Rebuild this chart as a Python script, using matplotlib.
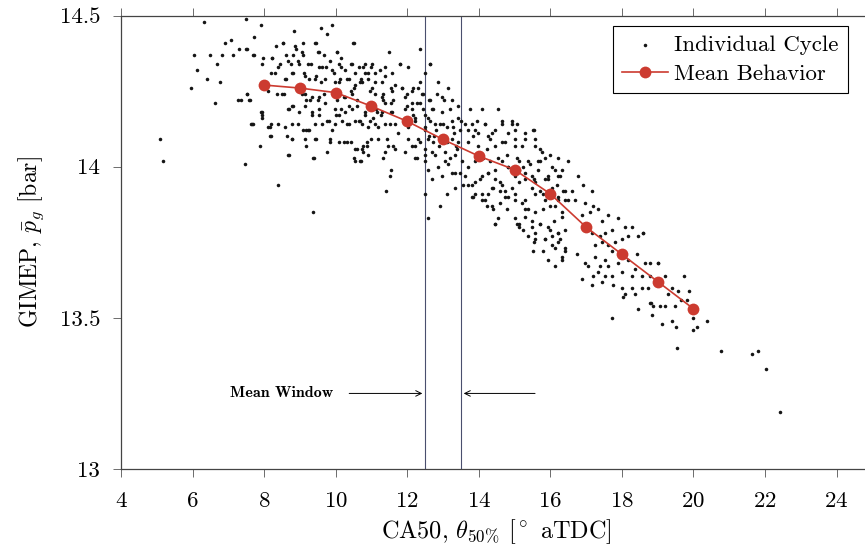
import matplotlib.pyplot as plt

plt.rcParams['font.family'] = 'cmr10'
plt.rcParams['mathtext.fontset'] = 'cm'
plt.rcParams['axes.formatter.use_mathtext'] = True

# --- individual cycles (CA50 [deg aTDC], GIMEP [bar]) ---
cycles_early = [
    (5.10, 14.09), (5.17, 14.02), (5.97, 14.26), (6.05, 14.37), (6.11, 14.32), (6.32, 14.48),
    (6.40, 14.29), (6.50, 14.37), (6.64, 14.21), (6.68, 14.34), (6.76, 14.28), (6.83, 14.37),
    (6.92, 14.41), (7.07, 14.42), (7.13, 14.37), (7.31, 14.39), (7.34, 14.22), (7.46, 14.01),
    (7.49, 14.39), (7.49, 14.49), (7.51, 14.24), (7.58, 14.22), (7.63, 14.14), (7.69, 14.14),
    (7.72, 14.43), (7.72, 14.37), (7.90, 14.47), (7.90, 14.18), (7.93, 14.17), (7.97, 14.36),
    (8.16, 14.13), (8.18, 14.31), (8.18, 14.14), (8.18, 14.10), (8.22, 14.36), (8.33, 14.40),
    (8.36, 14.24), (8.39, 13.94), (8.43, 14.34), (8.53, 14.41), (8.55, 14.24), (8.60, 14.37),
    (8.60, 14.29), (8.64, 14.10), (8.69, 14.19), (8.69, 14.04), (8.74, 14.34), (8.77, 14.09),
    (8.78, 14.20), (8.80, 14.37), (8.80, 14.31), (8.83, 14.45), (8.88, 14.39), (8.94, 14.14),
    (8.97, 14.34), (8.97, 14.18), (9.06, 14.24), (9.08, 14.41), (9.08, 14.37), (9.11, 14.31),
    (9.16, 14.22), (9.16, 14.12), (9.16, 14.07), (9.25, 14.29), (9.25, 14.12), (9.30, 14.34),
    (9.34, 14.23), (9.34, 14.18), (9.36, 13.85), (9.39, 14.03), (9.44, 14.41), (9.44, 14.30),
    (9.44, 14.09), (9.50, 14.38), (9.50, 14.22), (9.53, 14.33), (9.53, 14.17), (9.59, 14.46),
    (9.60, 14.28), (9.67, 14.37), (9.67, 14.24), (9.72, 14.33), (9.76, 14.44), (9.76, 14.15),
    (9.83, 14.08), (9.90, 14.47), (9.90, 14.32), (9.90, 14.12), (10.00, 14.17), (10.03, 14.38),
    (10.03, 14.22), (10.09, 14.28), (10.14, 14.33), (10.14, 14.19), (10.16, 14.36), (10.23, 14.23),
    (10.23, 14.08), (10.31, 14.29), (10.31, 14.14), (10.37, 14.20), (10.42, 14.34), (10.42, 14.25),
    (10.42, 14.08), (10.48, 14.41), (10.55, 14.27), (10.55, 14.06), (10.55, 14.02), (10.59, 14.20),
    (10.65, 14.33), (10.65, 14.15), (10.69, 14.02), (10.73, 14.28), (10.73, 14.06), (10.83, 14.31),
    (10.83, 14.17), (10.87, 14.07),
]

cycles_upper = [
    (8.54, 14.41), (8.86, 14.40), (9.42, 14.41), (10.50, 14.41), (7.70, 14.37), (7.93, 14.34),
    (8.21, 14.36), (8.40, 14.33), (8.68, 14.35), (8.96, 14.35), (9.05, 14.38), (9.24, 14.34),
    (9.52, 14.38), (9.61, 14.33), (9.84, 14.35), (10.03, 14.38), (10.08, 14.34), (10.26, 14.32),
    (10.45, 14.34), (10.54, 14.31), (10.82, 14.34), (11.01, 14.34), (11.10, 14.31), (11.38, 14.33),
    (11.57, 14.31), (11.80, 14.34), (12.36, 14.39), (12.64, 14.34), (8.31, 14.31), (8.58, 14.29),
    (8.77, 14.31), (9.14, 14.30), (9.42, 14.29), (9.70, 14.29), (9.94, 14.31), (9.98, 14.28),
    (10.12, 14.29), (10.36, 14.29), (10.50, 14.26), (10.68, 14.28), (10.91, 14.29), (11.01, 14.26),
    (11.29, 14.28), (11.57, 14.25), (11.85, 14.26), (12.13, 14.25), (12.31, 14.26), (12.45, 14.24),
    (7.51, 14.24), (7.61, 14.22), (8.12, 14.25), (8.49, 14.24), (9.14, 14.24), (9.28, 14.22),
    (9.52, 14.23), (10.08, 14.24), (10.26, 14.23), (10.45, 14.24), (10.59, 14.22), (11.10, 14.24),
    (11.29, 14.23), (11.38, 14.21), (11.61, 14.22), (11.94, 14.23), (12.13, 14.21), (12.36, 14.21),
    (12.64, 14.22), (7.93, 14.18), (8.68, 14.19), (8.82, 14.20), (9.14, 14.20), (9.33, 14.17),
    (9.52, 14.19), (9.70, 14.21), (9.98, 14.19), (10.08, 14.17), (10.26, 14.18), (10.45, 14.19),
    (11.01, 14.19), (11.15, 14.18), (11.29, 14.18), (11.57, 14.18), (11.94, 14.19), (12.17, 14.17),
    (12.50, 14.17), (12.69, 14.19), (7.65, 14.14), (7.93, 14.16), (8.12, 14.13), (8.17, 14.10),
    (8.40, 14.14), (8.58, 14.13), (8.77, 14.14), (9.10, 14.12), (9.24, 14.12), (9.42, 14.14),
    (9.61, 14.14), (9.80, 14.15), (9.98, 14.14), (10.17, 14.15), (10.36, 14.14), (10.54, 14.15),
    (10.73, 14.14), (10.96, 14.15), (11.10, 14.14), (11.38, 14.14), (11.66, 14.14), (12.22, 14.15),
    (12.50, 14.13), (12.78, 14.14), (8.77, 14.09), (9.14, 14.09), (9.42, 14.09), (9.84, 14.09),
    (10.08, 14.08), (10.31, 14.08), (10.59, 14.06), (10.87, 14.08), (11.19, 14.09), (11.43, 14.09),
    (11.61, 14.07), (12.03, 14.09), (12.22, 14.07), (12.36, 14.08), (12.50, 14.04), (12.59, 14.09),
    (7.89, 14.07), (8.68, 14.04), (9.38, 14.03), (9.75, 14.05), (10.50, 14.03), (10.77, 14.05),
    (11.38, 14.05), (12.27, 14.03), (7.28, 14.22), (7.51, 14.39),
]

cycles_core = [
    (10.77, 14.33), (11.00, 14.33), (10.91, 14.31), (11.24, 14.32), (11.38, 14.30), (11.80, 14.34),
    (11.56, 14.26), (11.10, 14.28), (10.96, 14.25), (11.33, 14.24), (11.66, 14.27), (11.84, 14.26),
    (11.98, 14.24), (12.17, 14.26), (12.40, 14.24), (12.64, 14.34), (12.85, 14.28), (12.82, 14.24),
    (13.04, 14.22), (12.61, 14.22), (12.73, 14.19), (12.45, 14.19), (12.26, 14.21), (12.12, 14.19),
    (11.98, 14.20), (11.56, 14.21), (11.33, 14.22), (11.14, 14.19), (10.82, 14.18), (11.05, 14.16),
    (11.28, 14.17), (11.56, 14.18), (10.68, 14.15), (10.91, 14.13), (11.19, 14.13), (11.52, 14.14),
    (11.75, 14.11), (12.03, 14.13), (12.22, 14.16), (12.59, 14.16), (12.96, 14.18), (13.20, 14.19),
    (13.43, 14.20), (13.75, 14.19), (14.08, 14.19), (14.55, 14.19), (12.92, 14.14), (13.10, 14.13),
    (13.29, 14.13), (13.48, 14.12), (13.61, 14.14), (13.94, 14.15), (14.17, 14.14), (14.36, 14.11),
    (14.64, 14.14), (14.92, 14.15), (15.01, 14.12), (15.29, 14.11), (15.53, 14.12), (12.50, 14.12),
    (12.31, 14.09), (12.12, 14.07), (11.94, 14.05), (11.66, 14.06), (11.47, 14.07), (11.00, 14.09),
    (10.77, 14.07), (10.91, 14.04), (10.72, 14.02), (11.33, 14.03), (12.50, 14.06), (12.73, 14.08),
    (13.01, 14.09), (13.24, 14.09), (13.43, 14.08), (13.71, 14.08), (13.85, 14.10), (13.99, 14.07),
    (14.22, 14.06), (14.45, 14.07), (14.73, 14.08), (15.01, 14.07), (15.29, 14.09), (15.57, 14.07),
    (15.76, 14.05), (15.99, 14.04), (16.22, 14.03), (12.22, 14.03), (12.50, 14.02), (12.78, 14.04),
    (13.06, 14.05), (13.33, 14.04), (13.52, 14.02), (13.71, 14.00), (13.89, 14.02), (14.13, 14.03),
    (14.31, 14.02), (14.55, 14.03), (14.78, 14.04), (15.11, 14.02), (15.43, 14.01), (15.71, 14.02),
    (16.04, 14.00), (16.32, 13.99), (12.59, 13.99), (12.87, 14.00), (13.15, 14.01), (12.68, 13.96),
    (12.96, 13.97), (13.24, 13.98), (13.47, 13.98), (13.61, 13.97), (13.80, 13.94), (14.03, 13.96),
    (14.27, 13.98), (14.45, 13.96), (14.64, 13.94), (15.01, 13.97), (15.29, 13.98), (15.53, 13.96),
    (15.85, 13.96), (16.18, 13.94), (16.36, 13.92), (11.56, 13.99), (11.52, 13.97), (11.42, 13.92),
    (12.50, 13.91), (13.10, 13.91), (12.92, 13.87), (12.59, 13.83), (13.57, 13.94), (13.71, 13.94),
    (13.85, 13.90), (14.08, 13.91), (14.36, 13.93), (14.59, 13.92), (14.73, 13.90), (15.01, 13.91),
    (15.29, 13.89), (15.57, 13.91), (15.85, 13.89), (16.13, 13.87), (16.32, 13.85), (14.45, 13.81),
    (14.55, 13.83), (15.01, 13.83), (15.29, 13.86), (15.48, 13.82), (15.71, 13.81), (15.99, 13.79),
    (16.22, 13.78), (15.53, 13.75), (15.85, 13.76), (16.13, 13.73), (16.41, 13.73), (16.32, 13.70),
    (15.06, 13.81), (14.78, 13.86), (14.36, 13.87), (14.17, 13.89), (13.89, 13.91), (13.33, 13.93),
    (13.33, 13.98), (12.03, 14.33), (10.72, 14.29), (12.36, 14.28), (12.50, 14.31), (13.15, 14.26),
    (12.96, 14.23), (13.24, 14.22), (13.43, 14.16), (13.71, 14.12), (13.89, 14.12), (14.31, 14.09),
    (14.83, 14.00), (15.11, 13.99), (15.66, 13.99), (15.94, 13.97), (16.22, 13.97), (15.48, 13.93),
    (15.80, 13.91), (16.22, 13.90), (16.41, 13.89), (11.48, 14.38),
]

cycles_window = [
    (12.60, 14.10), (12.70, 14.05), (12.80, 14.12), (12.90, 14.07), (13.00, 14.14), (13.10, 14.08),
    (13.20, 14.03), (13.30, 14.11), (13.40, 14.06), (13.50, 14.15), (12.65, 14.15), (13.05, 14.02),
    (13.25, 14.15), (12.75, 14.10), (13.35, 14.07),
]

cycles_mid = [
    (13.80, 14.14), (13.99, 14.11), (14.17, 14.14), (14.27, 14.10), (14.45, 14.12), (14.64, 14.15),
    (14.92, 14.14), (15.06, 14.14), (14.83, 14.11), (14.64, 14.08), (15.01, 14.09), (15.20, 14.07),
    (15.52, 14.12), (15.57, 14.09), (15.71, 14.06), (15.85, 14.03), (15.66, 14.02), (15.38, 14.02),
    (15.24, 14.00), (15.06, 14.03), (14.83, 14.00), (14.64, 14.02), (14.45, 13.99), (14.27, 13.98),
    (14.08, 13.97), (13.90, 13.95), (13.80, 13.90), (14.08, 13.89), (14.27, 13.91), (14.41, 13.93),
    (14.60, 13.95), (14.73, 13.92), (14.92, 13.93), (15.11, 13.95), (15.29, 13.96), (15.48, 13.97),
    (15.57, 13.95), (15.71, 13.92), (15.94, 13.96), (16.04, 13.93), (16.13, 13.99), (16.27, 13.97),
    (16.41, 13.92), (16.50, 13.89), (16.22, 13.89), (15.99, 13.87), (15.80, 13.86), (15.57, 13.85),
    (15.38, 13.86), (15.20, 13.88), (15.01, 13.89), (14.83, 13.90), (14.60, 13.88), (14.41, 13.86),
    (14.22, 13.87), (15.29, 13.835), (15.11, 13.81), (15.24, 13.79), (15.48, 13.80), (15.71, 13.81),
    (15.94, 13.80), (16.09, 13.82), (16.32, 13.835), (16.41, 13.79), (16.22, 13.78), (16.04, 13.77),
    (15.85, 13.76), (15.57, 13.76), (15.57, 13.78), (15.38, 13.77), (15.80, 13.72), (16.04, 13.74),
    (16.22, 13.75), (16.41, 13.72), (15.94, 13.69), (16.13, 13.67), (16.32, 13.69), (15.11, 13.80),
    (14.45, 13.81), (16.27, 13.76), (15.52, 13.72),
]

cycles_late = [
    (16.50, 14.02), (16.78, 13.97), (16.92, 13.94), (17.16, 13.92), (16.60, 13.92), (16.69, 13.89),
    (16.97, 13.88), (17.20, 13.87), (17.34, 13.86), (17.11, 13.85), (16.88, 13.84), (17.43, 13.82),
    (17.62, 13.84), (17.90, 13.83), (18.09, 13.80), (18.27, 13.80), (17.71, 13.79), (17.53, 13.78),
    (17.39, 13.77), (17.16, 13.78), (17.25, 13.74), (17.43, 13.75), (17.62, 13.74), (17.81, 13.75),
    (17.99, 13.76), (18.18, 13.77), (18.46, 13.77), (18.60, 13.78), (18.41, 13.71), (18.09, 13.71),
    (17.71, 13.72), (17.53, 13.69), (17.25, 13.70), (17.39, 13.67), (17.62, 13.67), (17.90, 13.68),
    (18.18, 13.69), (18.37, 13.66), (18.65, 13.68), (18.79, 13.68), (19.02, 13.68), (18.79, 13.64),
    (18.55, 13.64), (18.27, 13.64), (17.99, 13.65), (17.71, 13.64), (17.53, 13.64), (17.34, 13.65),
    (17.20, 13.64), (17.16, 13.61), (17.43, 13.62), (17.76, 13.61), (17.99, 13.60), (18.27, 13.60),
    (18.55, 13.60), (19.21, 13.64), (19.39, 13.60), (19.30, 13.58), (18.37, 13.58), (18.09, 13.58),
    (18.79, 13.55), (18.88, 13.54), (19.07, 13.54), (19.21, 13.54), (19.49, 13.54), (17.71, 13.50),
    (18.83, 13.51), (19.11, 13.48), (19.39, 13.49), (16.74, 13.71), (16.97, 13.68), (16.88, 13.63),
    (17.06, 13.67),
]

cycles_tail = [
    (19.74, 13.64), (19.87, 13.59), (19.58, 13.59), (19.81, 13.56), (19.98, 13.50), (20.09, 13.47),
    (19.98, 13.46), (20.37, 13.49), (19.50, 13.47), (19.53, 13.40), (20.77, 13.39), (21.65, 13.38),
    (21.79, 13.39), (22.02, 13.33), (22.43, 13.19), (18.81, 13.55), (18.44, 13.53), (18.04, 13.57),
    (18.74, 13.60), (19.00, 13.68), (18.60, 13.78), (19.65, 13.56),
]

# --- mean behaviour, one point per 1 deg window ---
mean_ca50 = [8, 9, 10, 11, 12, 13, 14, 15, 16, 17, 18, 19, 20]
mean_gimep = [14.27, 14.26, 14.245, 14.20, 14.15, 14.09, 14.035, 13.99, 13.91, 13.80, 13.71, 13.62, 13.53]

window_edges = [12.5, 13.5]
x_ticks = [4, 6, 8, 10, 12, 14, 16, 18, 20, 22, 24]
y_ticks = [13, 13.5, 14, 14.5]
y_tick_labels = ['13', '13.5', '14', '14.5']

cycles = cycles_early + cycles_upper + cycles_core + cycles_window + cycles_mid + cycles_late + cycles_tail
ca50 = [p[0] for p in cycles]
gimep = [p[1] for p in cycles]

fig = plt.figure(figsize=(8.65, 5.46), dpi=100)
ax = fig.add_axes([0.1399, 0.141, 0.8686, 0.8306])

for xe in window_edges:
    ax.axvline(xe, color='#4a4f6e', lw=0.8, zorder=1)

ax.scatter(ca50, gimep, s=6.5, color='#151515', linewidths=0, zorder=2, label='Individual Cycle')
ax.plot(mean_ca50, mean_gimep, color='#cc3b30', lw=1.2, marker='o', ms=8.5,
        markeredgewidth=0, zorder=3, label='Mean Behavior')

# "Mean Window" pointer arrows
ax.text(8.5, 13.25, 'Mean Window', family='cmb10', fontsize=11.5, ha='center', va='center')
ax.annotate('', xy=(window_edges[0], 13.25), xytext=(10.3, 13.25),
            arrowprops=dict(arrowstyle='->', color='black', lw=0.7, mutation_scale=10))
ax.annotate('', xy=(window_edges[1], 13.25), xytext=(15.65, 13.25),
            arrowprops=dict(arrowstyle='->', color='black', lw=0.7, mutation_scale=10))

ax.set_xlim(4, 25)
ax.set_ylim(13, 14.5)
ax.set_xticks(x_ticks)
ax.set_yticks(y_ticks)
ax.set_yticklabels(y_tick_labels)
ax.tick_params(direction='out', top=True, right=True, length=6, width=0.6,
               labelsize=16.5, color='#555555')
ax.tick_params(axis='x', pad=10)
ax.tick_params(axis='y', pad=9)
ax.spines['right'].set_visible(False)
for sp in ax.spines.values():
    sp.set_linewidth(0.9)
    sp.set_color('#444444')

ax.set_xlabel('CA50, $\\theta_{50\\%}$ [$^\\circ$ aTDC]', fontsize=17.5, labelpad=5)
ax.set_ylabel('GIMEP, $\\bar{p}_g$ [bar]', fontsize=17, labelpad=10)

leg = ax.legend(loc='upper right', bbox_to_anchor=(848 / 865, 1 - 26 / 546),
                bbox_transform=fig.transFigure, borderaxespad=0, fontsize=16.5,
                fancybox=False, edgecolor='black', framealpha=1, scatterpoints=1,
                handlelength=2.0, borderpad=0.4, labelspacing=0.37, handletextpad=0.3,
                markerscale=1)
leg.get_frame().set_linewidth(0.8)

fig.savefig('out.png', dpi=100)
